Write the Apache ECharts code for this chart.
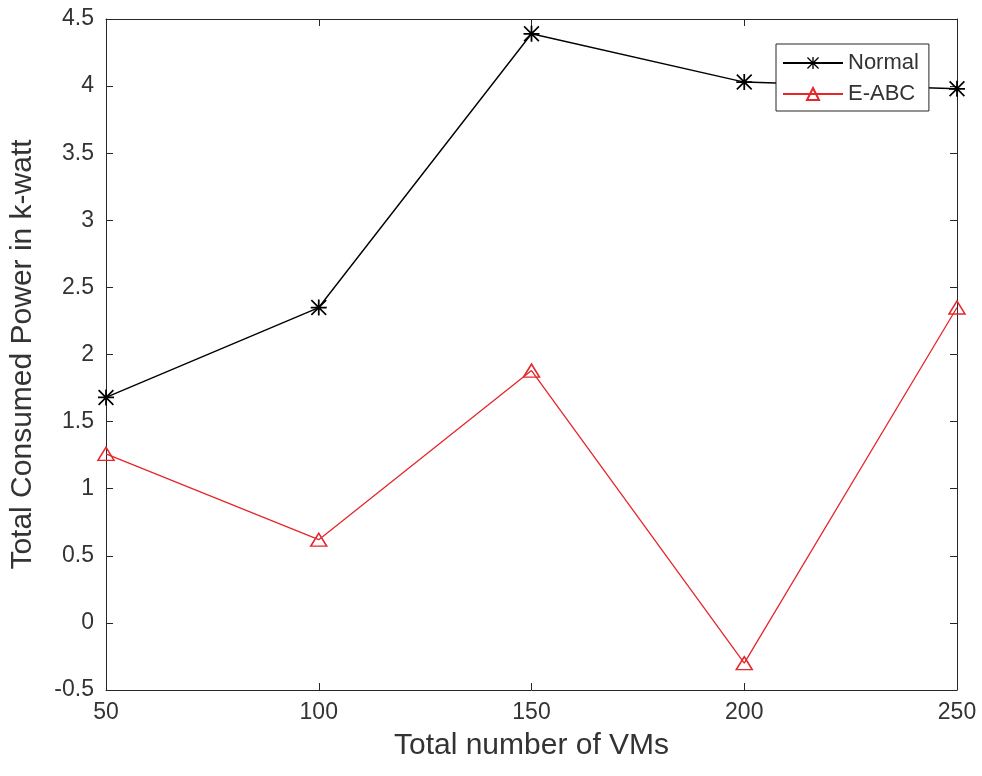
<!DOCTYPE html>
<html>
<head>
<meta charset="utf-8">
<script src="https://cdn.jsdelivr.net/npm/echarts@6/dist/echarts.min.js"></script>
<style>
html,body{margin:0;padding:0;background:#fff;}
#chart{width:982px;height:776px;}
</style>
</head>
<body>
<div id="chart"></div>
<script>
const vmCounts = [50, 100, 150, 200, 250];
const normalPower = [1.68, 2.35, 4.39, 4.03, 3.98];
const eabcPower = [1.26, 0.62, 1.88, -0.30, 2.35];
const seriesNames = ['Normal', 'E-ABC'];
const xLabel = 'Total number of VMs';
const yLabel = 'Total Consumed Power in k-watt';

const axisColor = '#262626';
const textColor = '#333333';
const font = 'Liberation Sans, Arial, Helvetica, sans-serif';
const asterisk = 'path://M8.9,0 L11.1,0 L11.1,20 L8.9,20 Z M0,8.9 L20,8.9 L20,11.1 L0,11.1 Z M0,1.5 L1.5,0 L20,18.5 L18.5,20 Z M18.5,0 L20,1.5 L1.5,20 L0,18.5 Z';

const pairs = (xs, ys) => xs.map((x, i) => [x, ys[i]]);

const chart = echarts.init(document.getElementById('chart'), null, {renderer: 'canvas'});
const baseX = {
  type: 'value', min: 50, max: 250, interval: 50,
  axisLine: {show: true, onZero: false, lineStyle: {color: axisColor, width: 1}},
  axisTick: {show: true, inside: true, length: 7, lineStyle: {color: axisColor}},
  splitLine: {show: false}
};
const baseY = {
  type: 'value', min: -0.5, max: 4.5, interval: 0.5,
  axisLine: {show: true, onZero: false, lineStyle: {color: axisColor, width: 1}},
  axisTick: {show: true, inside: true, length: 7, lineStyle: {color: axisColor}},
  splitLine: {show: false}
};
chart.setOption({
  animation: false,
  backgroundColor: '#fff',
  grid: {left: 106, right: 25, top: 19, bottom: 86, containLabel: false},
  xAxis: [
    Object.assign({}, baseX, {
      position: 'bottom',
      name: xLabel, nameLocation: 'middle', nameGap: 41,
      nameTextStyle: {fontFamily: font, fontSize: 30, color: textColor},
      axisLabel: {fontFamily: font, fontSize: 23, color: textColor, margin: 11}
    }),
    Object.assign({}, baseX, {position: 'top', axisLabel: {show: false}})
  ],
  yAxis: [
    Object.assign({}, baseY, {
      position: 'left',
      name: yLabel, nameLocation: 'middle', nameGap: 68, nameRotate: 90,
      nameTextStyle: {fontFamily: font, fontSize: 30, color: textColor},
      axisLabel: {fontFamily: font, fontSize: 23, color: textColor, margin: 12}
    }),
    Object.assign({}, baseY, {position: 'right', axisLabel: {show: false}})
  ],
  legend: {
    orient: 'vertical',
    left: 776, top: 44,
    padding: [8, 10, 6, 6],
    itemGap: 9,
    itemWidth: 60, itemHeight: 15,
    backgroundColor: '#fff',
    borderColor: axisColor, borderWidth: 1,
    textStyle: {fontFamily: font, fontSize: 22, color: textColor},
    data: seriesNames
  },
  series: [
    {
      name: seriesNames[0], type: 'line',
      data: pairs(vmCounts, normalPower),
      symbol: asterisk, symbolSize: 16,
      lineStyle: {color: '#000', width: 1.4},
      itemStyle: {color: '#000'},
      z: 3
    },
    {
      name: seriesNames[1], type: 'line',
      data: pairs(vmCounts, eabcPower),
      symbol: 'triangle', symbolSize: [16, 13],
      lineStyle: {color: '#e5262b', width: 1.3},
      itemStyle: {color: 'rgba(255,255,255,0)', borderColor: '#e5262b', borderWidth: 1.5},
      z: 3
    }
  ]
});
</script>
</body>
</html>
